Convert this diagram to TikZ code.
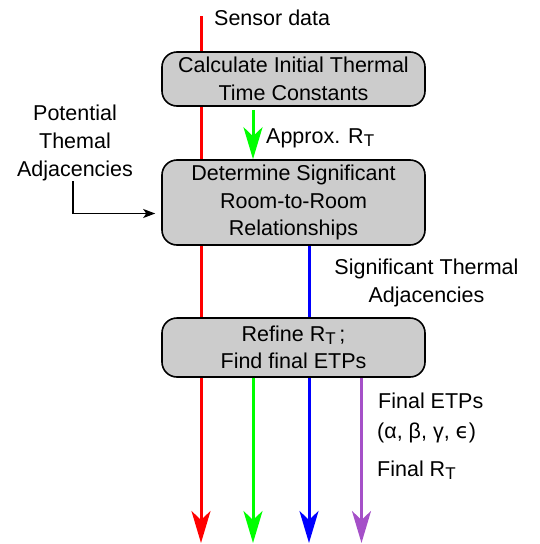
\documentclass[tikz,border=0pt]{standalone}
\usepackage{fontspec}
\setmainfont{Liberation Sans}
\newfontfamily\dvfont{DejaVu Sans}
\usetikzlibrary{arrows.meta}
\definecolor{boxgray}{RGB}{204,204,204}
\definecolor{flowred}{RGB}{255,0,0}
\definecolor{flowgreen}{RGB}{0,255,0}
\definecolor{flowblue}{RGB}{0,0,255}
\definecolor{flowpurple}{RGB}{165,80,200}
\pgfdeclarelayer{bg}
\pgfsetlayers{bg,main}
\newcommand\RTsub{R\raisebox{-3.5pt}{\fontsize{17}{17}\selectfont T}}
\begin{document}
\begin{tikzpicture}[x=1pt,y=-1pt,
  box/.style={draw=black, line width=1.6pt, fill=boxgray, rounded corners=15pt,
    minimum width=263pt, align=center, inner sep=0pt,
    font=\fontsize{21.5}{27.5}\selectfont},
  lbl/.style={inner sep=0pt, align=center, font=\fontsize{21.5}{28}\selectfont},
  flow/.style={line width=3pt, -{Stealth[length=32pt,width=19pt,inset=9pt]}},
  feed/.style={line width=1.2pt, -{Stealth[length=12pt,width=9pt,inset=3pt]}}
]
\useasboundingbox (0,0) rectangle (539,544);

% boxes
\node[box, minimum height=54pt] (b1) at (293.5,79) {Calculate Initial Thermal\\Time Constants};
\node[box, minimum height=85pt] (b2) at (293.5,202.5) {Determine Significant\\Room-to-Room\\Relationships};
\node[box, minimum height=59pt] (b3) at (293.5,347.5) {Refine \RTsub\,;\\Find final ETPs};

% labels
\node[lbl, anchor=base west] (sensor) at (214,25) {Sensor data};
\node[lbl, anchor=base west] (approx) at (266,143) {Approx. \RTsub};
\node[lbl] (pot) at (75,143) {Potential\\Themal\\Adjacencies};
\node[lbl] (sig) at (426.5,283) {Significant Thermal\\Adjacencies};
\node[lbl, anchor=base west] (fetp) at (378,408) {Final ETPs};
\node[lbl, anchor=base west] (greek) at (377,438) {(α, β, γ, {\dvfont ϵ})};
\node[lbl, anchor=base west] (frt) at (377,476) {Final \RTsub};

% column coordinates and free ends
\coordinate (cR) at (201,0);
\coordinate (cG) at (253,0);
\coordinate (cB) at (309,0);
\coordinate (cP) at (361.5,0);
\coordinate (redtop) at (201,16);
\coordinate (redend) at (201,543);
\coordinate (greenend) at (253,543);
\coordinate (blueend) at (309,543);
\coordinate (purpleend) at (361.5,543);

\begin{pgfonlayer}{bg}
\draw[flow, flowred] (redtop) -- (redend);
\draw[flow, flowblue] (b2.south -| cB) -- (blueend);
\end{pgfonlayer}
\draw[flow, flowgreen, shorten <=3pt] (b1.south -| cG) -- (b2.north -| cG);
\draw[flow, flowgreen] (b3.south -| cG) -- (greenend);
\draw[flow, flowpurple, shorten <=0.5pt] (b3.south -| cP) -- (purpleend);
\draw[feed, shorten >=6pt] ([xshift=-2pt]pot.south) |- ([yshift=-11pt]b2.west);
\end{tikzpicture}
\end{document}
